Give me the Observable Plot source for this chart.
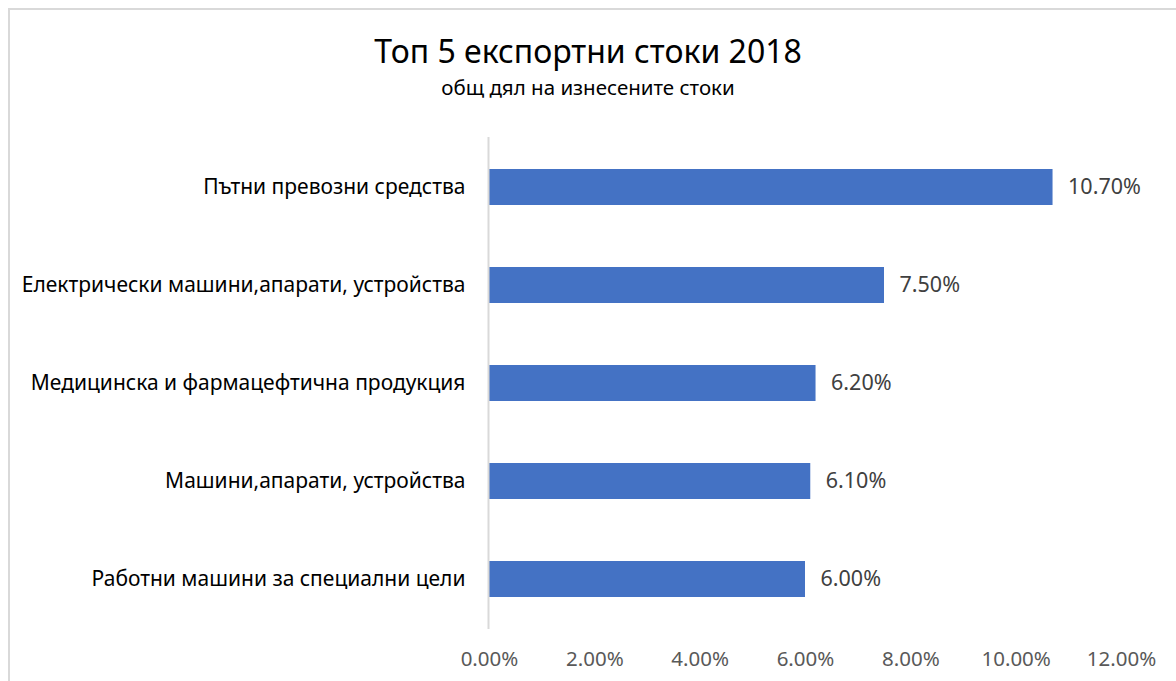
<!DOCTYPE html>
<html>
<head>
<meta charset="utf-8">
<script src="https://cdn.jsdelivr.net/npm/d3@7"></script>
<script src="https://cdn.jsdelivr.net/npm/@observablehq/plot@0.6"></script>
<style>
  html, body { margin: 0; padding: 0; background: #fff; }
  #wrap { position: relative; width: 1176px; height: 681px; overflow: hidden; font-family: "Noto Sans", "Open Sans", sans-serif; }
  #frame { position: absolute; left: 8px; top: 8px; width: 1300px; height: 900px; border: 2px solid #d9d9d9; box-sizing: border-box; }
  #head { position: relative; height: 120px; }
  #title { position: absolute; left: 0; width: 1176px; top: 34px; text-align: center; font-size: 32px; font-weight: 400; color: #000; line-height: 34px; }
  #subtitle { position: absolute; left: 0; width: 1176px; top: 75px; text-align: center; font-size: 20.5px; color: #000; line-height: 24px; }
  #chart { position: relative; }
  #chart svg { display: block; }
</style>
</head>
<body>
<div id="wrap">
  <div id="frame"></div>
  <div id="head">
    <div id="title">Топ 5 експортни стоки 2018</div>
    <div id="subtitle">общ дял на изнесените стоки</div>
  </div>
  <div id="chart"></div>
</div>
<script>
const categories = [
  "Пътни превозни средства",
  "Електрически машини,апарати, устройства",
  "Медицинска и фармацефтична продукция",
  "Машини,апарати, устройства",
  "Работни машини за специални цели"
];
const values = [10.7, 7.5, 6.2, 6.1, 6.0];
const xTicks = [0, 2, 4, 6, 8, 10, 12];

const data = categories.map((c, i) => ({category: c, value: values[i]}));
const fmt = d => d.toFixed(2) + "%";

const chart = Plot.plot({
  width: 1176,
  height: 561,
  marginLeft: 489,
  marginRight: 55,
  marginTop: 17,
  marginBottom: 52,
  style: {fontFamily: "'Noto Sans', 'Open Sans', sans-serif", background: "transparent"},
  x: {domain: [0, 12]},
  y: {domain: categories, paddingInner: 0.635, paddingOuter: 0.3175},
  marks: [
    Plot.barX(data, {x: "value", y: "category", fill: "#4472c4"}),
    Plot.ruleX([0], {stroke: "#d9d9d9", strokeWidth: 2, dx: -1}),
    Plot.text(data, {x: "value", y: "category", text: d => fmt(d.value), textAnchor: "start", dx: 15, fontSize: 21.5, fill: "#404040"}),
    Plot.axisY({tickSize: 0, tickPadding: 24, label: null, fontSize: 21, fill: "#000"}),
    Plot.axisX({ticks: xTicks, tickFormat: fmt, tickSize: 0, tickPadding: 22, label: null, fontSize: 20.5, fill: "#595959"})
  ]
});
document.getElementById("chart").appendChild(chart);
</script>
</body>
</html>
